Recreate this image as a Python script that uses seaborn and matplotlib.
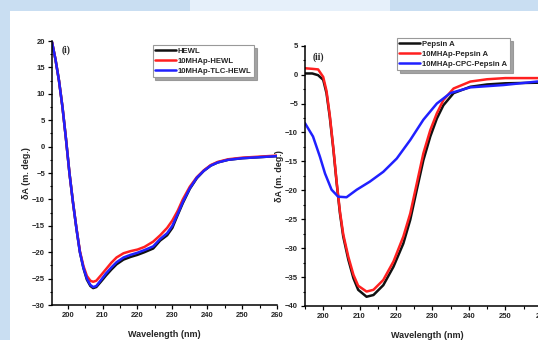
import numpy as np
import pandas as pd
import seaborn as sns
import matplotlib
matplotlib.use("Agg")
import matplotlib.pyplot as plt
from matplotlib.patches import Rectangle
from matplotlib.ticker import MultipleLocator

# ---- (i) HEWL series ----
hewl_wl = [195.5, 196.5, 197.5, 198.5, 199.5, 200.5, 201.5, 202.5, 203.5, 204.5,
           205.5, 206.5, 207.3, 208.2, 209.5, 211.0, 212.5, 214.0, 216.0, 218.0,
           220.0, 222.0, 224.5, 226.5, 228.5, 230.0, 231.5, 233.0, 235.0, 237.0,
           239.0, 241.0, 243.0, 246.0, 250.0, 255.0, 260.0]
hewl = [19.8, 16.5, 12.5, 7.5, 1.5, -5.0, -10.5, -15.5, -20.0, -23.0,
        -25.2, -26.4, -26.8, -26.6, -25.6, -24.4, -23.3, -22.3, -21.4, -20.9,
        -20.5, -20.0, -19.3, -17.8, -16.8, -15.4, -13.0, -10.7, -8.0, -6.0,
        -4.6, -3.6, -3.0, -2.5, -2.2, -2.0, -1.8]
hewl_mhap = [19.8, 16.5, 12.5, 7.5, 1.5, -5.0, -10.5, -15.4, -19.8, -22.6,
             -24.5, -25.4, -25.6, -25.4, -24.4, -23.2, -22.0, -21.0, -20.2, -19.8,
             -19.5, -19.0, -18.0, -16.8, -15.4, -14.0, -12.2, -10.0, -7.6, -5.8,
             -4.5, -3.5, -2.9, -2.4, -2.1, -1.9, -1.7]
hewl_tlc = [19.8, 16.5, 12.5, 7.5, 1.5, -5.0, -10.5, -15.5, -20.0, -22.9,
            -25.0, -26.2, -26.6, -26.4, -25.3, -24.0, -22.9, -21.9, -21.0, -20.5,
            -20.1, -19.6, -18.9, -17.5, -16.4, -15.0, -12.8, -10.5, -7.9, -5.9,
            -4.6, -3.6, -3.0, -2.5, -2.2, -2.0, -1.8]
hewl_labels = ["HEWL", "10MHAp-HEWL", "10MHAp-TLC-HEWL"]

# ---- (ii) Pepsin A series ----
pep_wl = [195.0, 197.0, 198.6, 200.0, 200.9, 201.8, 202.8, 203.7, 204.6, 205.5,
          206.9, 208.3, 209.6, 211.9, 213.8, 216.5, 219.3, 222.0, 223.9, 225.7,
          227.5, 229.4, 231.2, 233.0, 235.8, 240.4, 245.0, 250.0, 258.7, 262.0]
pepsin = [0.2, 0.2, -0.1, -0.9, -3.2, -7.3, -13.0, -18.8, -24.0, -28.0,
          -32.0, -35.2, -37.2, -38.4, -38.1, -36.4, -33.2, -29.2, -25.1, -19.9,
          -14.8, -10.7, -7.6, -5.3, -3.2, -2.1, -1.7, -1.5, -1.4, -1.4]
pepsin_mhap = [1.1, 1.0, 0.9, -0.4, -2.8, -7.0, -12.8, -18.6, -23.7, -27.6,
               -31.5, -34.6, -36.5, -37.5, -37.2, -35.5, -32.3, -28.0, -24.0, -18.8,
               -13.6, -9.6, -6.7, -4.4, -2.4, -1.2, -0.8, -0.6, -0.6, -0.6]
cpc_wl = [195.0, 197.2, 199.1, 200.5, 202.3, 204.1, 206.4, 209.2, 212.8, 216.5,
          220.2, 223.9, 227.5, 231.2, 234.9, 240.4, 249.5, 258.7, 262.0]
pepsin_cpc = [-8.4, -10.7, -14.2, -17.1, -19.9, -21.1, -21.2, -19.9, -18.5, -16.8,
              -14.5, -11.3, -7.8, -5.0, -3.2, -2.2, -1.8, -1.2, -1.1]
pepsin_labels = ["Pepsin A", "10MHAp-Pepsin A", "10MHAp-CPC-Pepsin A"]

colors = ["#111111", "#ff2020", "#2020ff"]

sns.set_theme(style="ticks")
plt.rcParams["font.family"] = ["Liberation Sans", "DejaVu Sans"]

fig = plt.figure(figsize=(5.38, 3.40), dpi=100)
fig.patch.set_facecolor("#c9def2")
# white page area with a lighter band in the top strip
fig.add_artist(Rectangle((10 / 538, 0), 1, (340 - 11) / 340,
                         transform=fig.transFigure, facecolor="white",
                         edgecolor="none", zorder=-5))
fig.add_artist(Rectangle((190 / 538, (340 - 11) / 340), 200 / 538, 11 / 340,
                         transform=fig.transFigure, facecolor="#e6f0fa",
                         edgecolor="none", zorder=-5))

ax1 = fig.add_axes([52 / 538, 1 - 305 / 340, 225 / 538, 264 / 340])
ax2 = fig.add_axes([305 / 538, 1 - 306 / 340, 244 / 538, 260.3 / 340])

df1 = pd.DataFrame({
    "Wavelength": hewl_wl * 3,
    "CD": hewl + hewl_mhap + hewl_tlc,
    "Sample": sum([[s] * len(hewl_wl) for s in hewl_labels], []),
})
sns.lineplot(data=df1, x="Wavelength", y="CD", hue="Sample", hue_order=hewl_labels,
             palette=colors, linewidth=1.8, ax=ax1, sort=False, estimator=None)

df2 = pd.DataFrame({
    "Wavelength": pep_wl + pep_wl + cpc_wl,
    "CD": pepsin + pepsin_mhap + pepsin_cpc,
    "Sample": [pepsin_labels[0]] * len(pep_wl) + [pepsin_labels[1]] * len(pep_wl)
              + [pepsin_labels[2]] * len(cpc_wl),
})
sns.lineplot(data=df2, x="Wavelength", y="CD", hue="Sample", hue_order=pepsin_labels,
             palette=colors, linewidth=1.8, ax=ax2, sort=False, estimator=None)

for ax, xlim, ylim in [(ax1, (195.5, 260), (-30, 20)), (ax2, (195, 262), (-40, 5))]:
    ax.set_xlim(*xlim)
    ax.set_ylim(*ylim)
    ax.set_facecolor("none")
    ax.set_zorder(2)
    ax.xaxis.set_major_locator(MultipleLocator(10))
    ax.xaxis.set_minor_locator(MultipleLocator(5))
    ax.yaxis.set_major_locator(MultipleLocator(5))
    ax.yaxis.set_minor_locator(MultipleLocator(2.5))
    for side in ("top", "right"):
        ax.spines[side].set_visible(False)
    for side in ("left", "bottom"):
        ax.spines[side].set_linewidth(1.1)
        ax.spines[side].set_color("black")
    ax.tick_params(which="major", direction="out", length=3, width=0.9,
                   labelsize=5.5, pad=2, color="black")
    ax.tick_params(which="minor", direction="out", length=1.8, width=0.8, color="black")
    ax.set_xlabel("Wavelength (nm)", fontsize=6.5, fontweight="bold", labelpad=8)
    ax.set_ylabel("δA (m. deg.)", fontsize=6.5, fontweight="bold", labelpad=0.5)

ax1.set_xticks([200, 210, 220, 230, 240, 250, 260])
ax2.set_xticks([200, 210, 220, 230, 240, 250, 260])
for ax in (ax1, ax2):
    for lab in ax.get_xticklabels() + ax.get_yticklabels():
        lab.set_fontweight("bold")

ax1.text(0.043, 0.985, "(i)", transform=ax1.transAxes, fontsize=7,
         fontweight="bold", family=["Liberation Serif"], va="top")
ax2.text(0.03, 0.975, "(ii)", transform=ax2.transAxes, fontsize=7,
         fontweight="bold", family=["Liberation Serif"], va="top")

leg_kw = dict(title=None, fontsize=5.6, frameon=True, fancybox=False,
              shadow={"color": "0.55", "alpha": 0.8},
              handlelength=2.6, handletextpad=0.3, borderpad=0.35, labelspacing=0.3,
              edgecolor="#999999", framealpha=1)
h1, l1 = ax1.get_legend_handles_labels()
leg1 = ax1.legend(h1, l1, loc="upper left", bbox_to_anchor=(0.43, 1.0), **leg_kw)
h2, l2 = ax2.get_legend_handles_labels()
leg2 = ax2.legend(h2, l2, loc="upper left", bbox_to_anchor=(0.36, 1.045), **leg_kw)
for leg in (leg1, leg2):
    leg.get_frame().set_linewidth(0.8)
    for t in leg.get_texts():
        t.set_fontweight("bold")
    for ln in leg.get_lines():
        ln.set_linewidth(1.8)

fig.savefig("out.png", dpi=100, facecolor=fig.get_facecolor())
